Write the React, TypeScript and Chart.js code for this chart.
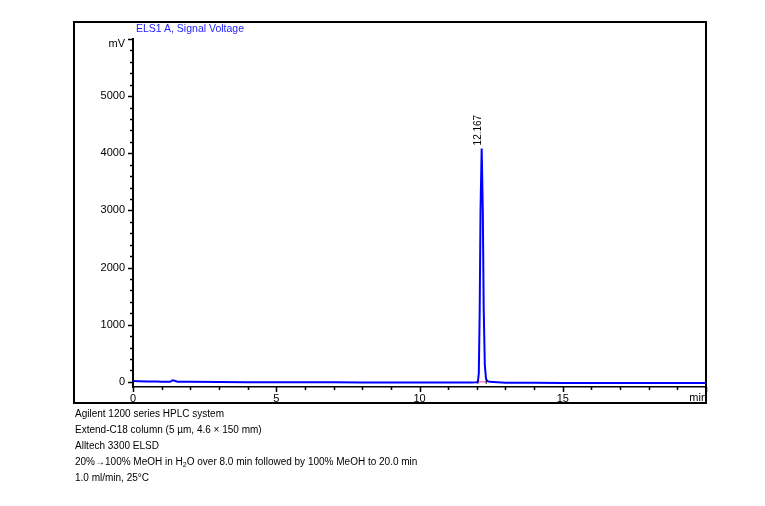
import React, { useEffect, useRef } from "react";
import { Chart, registerables } from "chart.js";

Chart.register(...registerables);

// ---- data ----
const timeMin: number[] = [
  0, 0.2, 0.5, 0.8, 1.0, 1.3, 1.38, 1.45, 1.55, 2, 3, 4, 5, 6, 7, 8, 9, 10, 11, 11.8, 12.0,
  12.04, 12.07, 12.1, 12.13, 12.17, 12.21, 12.24, 12.28, 12.32, 12.36, 12.45,
  13, 14, 15, 16, 17, 18, 19, 20,
];
const signalMv: number[] = [
  15, 12, 8, 5, 3, 2, 28, 18, 4, 0, -3, -5, -6, -8, -9, -10, -11, -12, -13, -13, -8,
  10, 150, 1200, 3000, 4085, 3000, 1300, 300, 60, 15, 0,
  -14, -16, -18, -19, -20, -20, -21, -21,
];
const integrationTimes: number[] = [12.04, 12.33];
const integrationValues: number[] = [0, 0];
const peakRetention = 12.167;
const peakLabel = "12.167";
const peakHeight = 4085;

const xTickValues: number[] = Array.from({ length: 21 }, (_, i) => i);
const xMajorLabels: number[] = [0, 5, 10, 15];
const yTickValues: number[] = Array.from({ length: 31 }, (_, i) => i * 200);
const yMajorLabels: number[] = [0, 1000, 2000, 3000, 4000, 5000];

const chartTitle = "ELS1 A, Signal Voltage";
const yUnit = "mV";
const xUnit = "min";
const captionLines: React.ReactNode[] = [
  "Agilent 1200 series HPLC system",
  "Extend-C18 column (5 µm, 4.6 × 150 mm)",
  "Alltech 3300 ELSD",
  <>
    20%→100% MeOH in H<sub style={{ fontSize: "7px", verticalAlign: "-2px", lineHeight: 0 }}>2</sub>O over 8.0 min followed by 100% MeOH to 20.0 min
  </>,
  "1.0 ml/min, 25°C",
];

const FONT = 'Arial, "Liberation Sans", sans-serif';

const decorPlugin = {
  id: "decor",
  beforeDraw(chart: any) {
    const ctx = chart.ctx;
    ctx.save();
    ctx.fillStyle = "#ffffff";
    ctx.fillRect(0, 0, chart.width, chart.height);
    ctx.strokeStyle = "#000000";
    ctx.lineWidth = 2;
    ctx.strokeRect(74, 22, 632, 381);
    ctx.restore();
  },
  afterDraw(chart: any) {
    const ctx = chart.ctx;
    const xs = chart.scales.x;
    const ys = chart.scales.y;
    const area = chart.chartArea;
    ctx.save();
    ctx.strokeStyle = "#000000";
    ctx.lineWidth = 1.5;
    // y ticks
    yTickValues.forEach((v) => {
      const py = Math.round(ys.getPixelForValue(v)) + 0.5;
      const len = v % 1000 === 0 ? 5 : 3;
      ctx.beginPath();
      ctx.moveTo(area.left, py);
      ctx.lineTo(area.left - len, py);
      ctx.stroke();
    });
    // x ticks
    xTickValues.forEach((v) => {
      const px = Math.round(xs.getPixelForValue(v)) + 0.5;
      const len = v % 5 === 0 ? 5 : 3;
      ctx.beginPath();
      ctx.moveTo(px, area.bottom);
      ctx.lineTo(px, area.bottom + len);
      ctx.stroke();
    });
    ctx.fillStyle = "#000000";
    ctx.font = `11px ${FONT}`;
    // "mV" unit label
    ctx.textAlign = "right";
    ctx.textBaseline = "middle";
    ctx.fillText(yUnit, area.left - 8, ys.getPixelForValue(6000) + 5);
    // "min" unit label
    ctx.fillText(xUnit, xs.getPixelForValue(20) + 1, area.bottom + 11);
    // peak retention-time label
    ctx.font = `10px ${FONT}`;
    const px = xs.getPixelForValue(peakRetention);
    const py = ys.getPixelForValue(peakHeight);
    ctx.translate(px - 1, py - 3);
    ctx.rotate(-Math.PI / 2);
    ctx.textAlign = "left";
    ctx.textBaseline = "alphabetic";
    ctx.fillText(peakLabel, 0, 0);
    ctx.restore();
  },
};

export default function App() {
  const canvasRef = useRef<HTMLCanvasElement | null>(null);

  useEffect(() => {
    if (!canvasRef.current) return;
    const chart = new Chart(canvasRef.current, {
      type: "line",
      data: {
        datasets: [
          {
            label: "integration",
            data: integrationTimes.map((t, i) => ({ x: t, y: integrationValues[i] })),
            borderColor: "#ff33cc",
            borderWidth: 1,
            pointRadius: 2,
            pointStyle: "line",
            rotation: 90,
            pointBorderColor: "#000000",
            pointBorderWidth: 1,
            order: 0,
          },
          {
            label: "signal",
            data: timeMin.map((t, i) => ({ x: t, y: signalMv[i] })),
            borderColor: "#0000ff",
            borderWidth: 2,
            pointRadius: 0,
            tension: 0,
            order: 1,
          },
        ],
      },
      options: {
        responsive: false,
        animation: false,
        devicePixelRatio: 1,
        layout: { padding: { top: 39, right: 59, left: 0, bottom: 0 } },
        plugins: {
          legend: { display: false },
          tooltip: { enabled: false },
          title: { display: false },
        },
        scales: {
          x: {
            type: "linear",
            min: 0,
            max: 20,
            afterFit: (s: any) => {
              s.height = 119;
            },
            afterBuildTicks: (s: any) => {
              s.ticks = xTickValues.map((v) => ({ value: v }));
            },
            grid: { display: true, drawOnChartArea: false, drawTicks: false },
            border: { display: true, color: "#000000", width: 1.5 },
            ticks: {
              autoSkip: false,
              maxRotation: 0,
              padding: 5,
              color: "#000000",
              font: { family: FONT, size: 11 },
              callback: (v: any) => (xMajorLabels.includes(Number(v)) ? String(v) : ""),
            },
          },
          y: {
            type: "linear",
            min: -90,
            max: 6000,
            afterFit: (s: any) => {
              s.width = 133;
            },
            afterBuildTicks: (s: any) => {
              s.ticks = yTickValues.map((v) => ({ value: v }));
            },
            grid: { display: true, drawOnChartArea: false, drawTicks: false },
            border: { display: true, color: "#000000", width: 2 },
            ticks: {
              autoSkip: false,
              padding: 8,
              color: "#000000",
              font: { family: FONT, size: 11 },
              callback: (v: any) => {
                const n = Number(v);
                return yMajorLabels.includes(n) ? String(n) : "";
              },
            },
          },
        },
      },
      plugins: [decorPlugin],
    } as any);
    return () => chart.destroy();
  }, []);

  return (
    <div
      style={{
        position: "fixed",
        left: 0,
        top: 0,
        width: 765,
        height: 506,
        background: "#ffffff",
        fontFamily: FONT,
      }}
    >
      <canvas ref={canvasRef} width={765} height={506} style={{ width: 765, height: 506, display: "block" }} />
      <div
        style={{
          position: "absolute",
          left: 136,
          top: 21,
          fontSize: 10.5,
          lineHeight: "14px",
          color: "#2222ff",
          whiteSpace: "nowrap",
        }}
      >
        {chartTitle}
      </div>
      <div
        style={{
          position: "absolute",
          left: 75,
          top: 406,
          fontSize: 10,
          lineHeight: "16px",
          color: "#000000",
          whiteSpace: "nowrap",
        }}
      >
        {captionLines.map((line, i) => (
          <div key={i}>{line}</div>
        ))}
      </div>
    </div>
  );
}
